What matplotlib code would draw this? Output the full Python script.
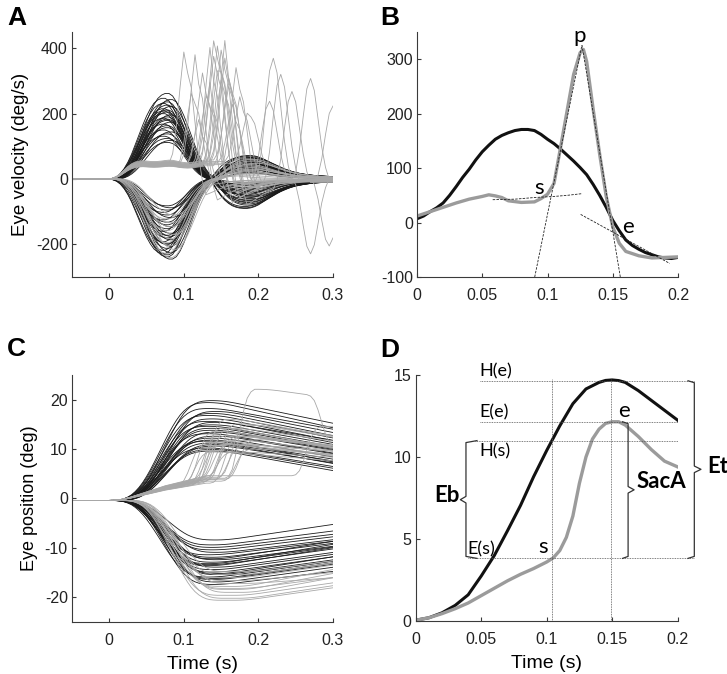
import matplotlib
matplotlib.use('Agg')
import matplotlib.pyplot as plt
import numpy as np

plt.rcParams['font.family'] = ['Liberation Sans', 'DejaVu Sans']

DARK = '#1a1a1a'
GREY = '#a8a8a8'
NOTE_FONT = ['Lato', 'DejaVu Sans']

# ---------------------------------------------------------------- sample clock (5 ms)
t_ms = np.arange(-50, 301, 5)
N = len(t_ms)

def idx(ms):
    return (ms + 50) // 5

# ---------------------------------------------------------------- shapes read from panel A / C
# pursuit velocity bump, 0..135 ms (peak normalised to 1)
bump_v = [0, .01, .03, .07, .13, .21, .31, .43, .55, .67, .78, .87, .94, .98, 1.0,
          1.0, .97, .9, .8, .68, .55, .42, .3, .2, .12, .06, .02, 0]
# late (post crossing) velocity, 135..300 ms
late_v = [0, .2, .4, .58, .72, .83, .91, .96, .99, 1.0, 1.0, .98, .94, .88, .8, .72, .64,
          .56, .48, .42, .36, .31, .27, .24, .21, .19, .17, .15, .14, .13, .12, .11, .1, .1]
# catch-up saccade velocity, peak at 4th sample
sacc_v = [.08, .3, .62, .9, 1.0, .88, .6, .32, .12, 0]
# low pursuit velocity plateau of catch-up trials, 0..130 ms
plat_v = [0, .05, .15, .3, .5, .7, .85, .95, 1.0, 1.02, 1.0, .98, .97, .98, 1.0, 1.03,
          1.05, 1.04, 1.0, .95, .92, .9, .92, .95, 1.0, 1.05, 1.1]
# position of smooth trials, 0..130 ms
rise_p = [0, .001, .003, .008, .018, .035, .058, .092, .134, .185, .245, .312, .385, .46,
          .537, .614, .688, .757, .819, .872, .914, .946, .969, .985, .994, .998, 1.0]
# slow position drift after the movement, 0..165 ms after start
drift_p = [0, .005, .015, .03, .05, .075, .1, .13, .16, .19, .22, .25, .28, .31, .34, .37,
           .4, .43, .46, .49, .52, .55, .58, .61, .64, .67, .7, .73, .76, .79, .82, .85, .88, .91]
# slow position of catch-up trials, 0..130 ms
slow_p = [0, .005, .017, .037, .067, .104, .148, .198, .247, .296, .346, .395, .444, .494,
          .543, .593, .63, .667, .704, .741, .778, .815, .852, .889, .926, .963, 1.0]
# saccadic position step
step_p = [.02, .1, .28, .52, .75, .9, .97, 1.0]

# ---------------------------------------------------------------- panel A values (deg/s)
up_peak = [262, 247, 243, 236, 231, 226, 222, 215, 211, 205, 200, 196, 190, 186, 179, 174,
           168, 163, 157, 150, 144, 138, 131, 124, 118, 112, 208, 183]
up_late = [-72, -88, -60, -80, -45, -66, -52, -90, -38, -70, -58, -28, -64, -48, -20, -55,
           -35, -76, -42, -15, -30, -50, -25, -10, -40, -18, -84, -33]
up_delay = [1, 0, 2, 1, 0, 1, 2, 0, 1, 1, 0, 2, 1, 0, 1, 2, 0, 1, 1, 0, 2, 1, 0, 1, 2, 1, 0, 1]

dn_peak = [-245, -238, -232, -225, -218, -212, -205, -198, -192, -186, -180, -172, -166, -160,
           -152, -146, -140, -132, -125, -118, -110, -102, -95, -88, -82, -200, -175, -228]
dn_late = [60, 35, 70, 48, 25, 66, 40, 55, 20, 62, 30, 50, 45, 68, 28, 58, 38, 52, 22, 65,
           42, 33, 56, 18, 46, 72, 36, 53]
dn_delay = [2, 1, 1, 2, 0, 1, 2, 1, 0, 2, 1, 1, 2, 0, 1, 2, 1, 1, 0, 2, 1, 0, 1, 2, 1, 1, 2, 0]

gdn_peak = [-240, -228, -215, -204, -195, -182, -170, -158, -146, -134, -122, -110]
gdn_late = [15, 40, 28, 55, 10, 35, 48, 22, 60, 30, 44, 18]
gdn_delay = [2, 1, 3, 2, 1, 2, 3, 1, 2, 2, 1, 3]

gup_plat = [45, 40, 50, 38, 52, 44, 47, 41, 55, 43, 39, 48, 46, 42, 50, 37, 53, 45, 40, 49, 44, 47]
gup_tp = [105, 115, 120, 125, 130, 135, 140, 145, 145, 150, 150, 155, 155, 160, 160, 165,
          165, 170, 175, 180, 190, 140]
gup_pk = [386, 250, 370, 160, 300, 230, 390, 420, 350, 400, 320, 380, 280, 360, 410, 300,
          250, 200, 330, 220, 170, 270]
gup_post = [-60, -20, -80, -30, -40, -10, -90, -50, -30, -70, 10, -45, -20, -60, -100, -35,
            0, -25, -55, -15, 20, -65]
gup_tp2 = [0, 0, 0, 0, 0, 215, 0, 0, 220, 0, 270, 230, 0, 0, 245, 0, 295, 0, 0, 270, 0, 300]
gup_pk2 = [0, 0, 0, 0, 0, 240, 0, 0, 376, 0, -230, 330, 0, 0, 285, 0, -205, 0, 0, 310, 0, 230]

# ---------------------------------------------------------------- panel C values (deg)
pos_offset = -0.4
cup_top = [20.2, 19.8, 18, 17.6, 17.2, 16.5, 15.8, 15, 14.6, 14.2, 13.5, 13, 12.6, 12, 11.6,
           11, 10.6, 10.3, 10, 16, 13.8, 12.2, 18.6, 15.3, 11.3]
cup_end = [15, 14.2, 13, 12.5, 12.2, 11.5, 11, 10.5, 10, 9.8, 9.2, 8.8, 8.3, 8, 7.5, 7, 6.5,
           6, 5.5, 11.8, 9.5, 7.2, 14, 10.8, 6.8]
cup_delay = [1, 0, 2, 1, 0, 1, 2, 0, 1, 1, 0, 2, 1, 0, 1, 2, 0, 1, 1, 0, 2, 1, 0, 1, 2]

cdn_low = [-8, -9, -10, -10.5, -11, -11.5, -12, -12.5, -13, -13.5, -14, -14.5, -15, -15.5,
           -16, -16.5, -17, -11.8, -13.2, -14.8, -9.5, -12.8, -15.8]
cdn_end = [-4.3, -5.8, -7, -7.5, -8, -8.3, -8.8, -9, -9.5, -10, -10.5, -11, -11.5, -12, -12.5,
           -13, -14, -7.8, -9.2, -10.8, -6.5, -8.5, -12.2]
cdn_delay = [2, 1, 1, 2, 0, 1, 2, 1, 0, 2, 1, 1, 2, 0, 1, 2, 1, 1, 0, 2, 1, 0, 1]

cgdn_low = [-19.8, -19.2, -18.6, -18, -17.4, -16.8, -16.2, -15.6, -15, -14.4, -20.2, -17.8]
cgdn_end = [-16, -15.6, -14, -13.2, -12.5, -15, -13.8, -12, -11.5, -11, -16.6, -14.5]
cgdn_delay = [4, 3, 5, 4, 3, 5, 4, 3, 4, 5, 3, 4]

cgup_slow = [4.2, 3.8, 4.5, 4.0, 3.6, 4.8, 4.1, 3.9, 4.4, 4.6, 3.7, 4.3, 4.0, 4.9, 3.5, 4.2,
             4.7, 3.9, 4.3, 4.5, 5.0]
cgup_on = [95, 100, 105, 110, 115, 115, 120, 120, 125, 125, 130, 130, 135, 135, 140, 145,
           150, 155, 160, 160, 250]
cgup_jump = [7.5, 6, 9.5, 8, 11, 6.5, 9, 12.5, 7, 10, 8.5, 5.5, 11.5, 8, 9.5, 7, 10.5, 6.5,
             8, 18, 10]
cgup_drop = [-3, -2, -4, -3.5, -5, -2.5, -3, -4.5, -2, -3.5, -3, -1.5, -4, -2.5, -3, -2,
             -3.5, -2, -2.5, -3.5, 0]
cgup_on2 = [0] * 19 + [270, 0]
cgup_jump2 = [0] * 19 + [-10, 0]

# ---------------------------------------------------------------- panel B values
b_t = [0, .005, .01, .015, .02, .025, .03, .035, .04, .045, .05, .055, .06, .065, .07, .075,
       .08, .085, .09, .095, .1, .105, .11, .115, .12, .125, .13, .135, .14, .145, .15, .155,
       .16, .165, .17, .175, .18, .185, .19, .195, .2]
b_black = [7, 12, 20, 27, 36, 50, 66, 83, 98, 115, 130, 142, 153, 160, 165, 169, 171, 171,
           169, 162, 153, 145, 135, 124, 113, 101, 88, 70, 50, 28, 4, -15, -32, -42, -49,
           -55, -59, -63, -65, -66, -64]
b_gray_t = [0, .01, .02, .03, .04, .05, .055, .06, .065, .07, .08, .09, .095, .1, .105, .11,
            .115, .12, .125, .1275, .13, .135, .14, .145, .15, .155, .16, .17, .18, .19, .2]
b_gray = [12, 20, 28, 36, 43, 48, 51, 49, 46, 40, 37, 38, 44, 52, 72, 138, 205, 272, 312,
          318, 296, 208, 125, 48, -8, -38, -53, -61, -65, -64, -63]
b_base_t = [0.058, 0.075, 0.09, 0.105, 0.115, 0.126]
b_base_v = [42, 43, 46, 48, 50, 53]
b_rise_t, b_rise_v = [0.0902, 0.1264], [-100, 326]
b_fall_t, b_fall_v = [0.1264, 0.1558], [326, -100]
b_end_t, b_end_v = [0.1254, 0.1936], [15, -75]

# ---------------------------------------------------------------- panel D values
d_t = [0, .01, .02, .03, .04, .05, .06, .07, .08, .09, .1, .11, .12, .13, .14, .145, .15,
       .155, .16, .17, .18, .19, .2]
d_black = [0.05, 0.2, 0.5, 0.95, 1.6, 2.75, 4.0, 5.5, 7.05, 8.8, 10.4, 11.9, 13.25, 14.15,
           14.55, 14.67, 14.7, 14.66, 14.55, 14.05, 13.45, 12.85, 12.25]
d_gray_t = [0, .01, .02, .03, .04, .05, .06, .07, .08, .09, .1, .105, .11, .115, .12, .125,
            .13, .135, .14, .145, .15, .155, .16, .17, .18, .19, .2]
d_gray = [0.05, 0.2, 0.45, 0.75, 1.1, 1.55, 2.0, 2.45, 2.85, 3.2, 3.6, 3.85, 4.3, 5.1, 6.4,
          8.4, 10.0, 11.1, 11.7, 12.05, 12.15, 12.15, 11.95, 11.25, 10.45, 9.75, 9.4]
sac_s, sac_e = 0.104, 0.149
H_s, H_e, E_s, E_e = 11.0, 14.65, 3.82, 12.15


def held(shape, start):
    out = np.zeros(N)
    s = np.asarray(shape, float)
    k = max(0, min(len(s), N - start))
    out[start:start + k] = s[:k]
    if start + k < N:
        out[start + k:] = s[-1]
    return out


def matlab_style(ax):
    for s in ('top', 'right'):
        ax.spines[s].set_visible(False)
    for s in ('left', 'bottom'):
        ax.spines[s].set_color('#3a3a3a')
        ax.spines[s].set_linewidth(0.8)
    ax.tick_params(direction='in', length=3, width=0.8, color='#3a3a3a',
                   labelsize=11.5, labelcolor='#222222')
    ax.tick_params(axis='x', pad=8)
    ax.tick_params(axis='y', pad=3)


def brace(ax, x, y0, y1, ym, tip, hook):
    xs = [hook, x, x, tip, x, x, hook]
    ys = [y1, y1 - 0.12, ym + 0.2, ym, ym - 0.2, y0 + 0.12, y0]
    ax.plot(xs, ys, color='#333333', lw=0.9, clip_on=False)


fig = plt.figure(figsize=(7.27, 6.74), dpi=100)
axA = fig.add_axes([0.099, 0.589, 0.359, 0.3635])
axB = fig.add_axes([0.5736, 0.589, 0.359, 0.3635])
axC = fig.add_axes([0.099, 0.0772, 0.359, 0.3665])
axD = fig.add_axes([0.572, 0.0786, 0.360, 0.365])
tA = t_ms / 1000.0
i0, i135 = idx(0), idx(135)

# ---------------------------------------------------------------- A
for pk, lt, d in zip(up_peak, up_late, up_delay):
    v = pk * held(bump_v, i0 + d) + lt * held(late_v, i135 + d)
    axA.plot(tA, v, color=DARK, lw=0.6)
for pk, lt, d in zip(dn_peak, dn_late, dn_delay):
    v = pk * held(bump_v, i0 + d) + lt * held(late_v, i135 + d)
    axA.plot(tA, v, color=DARK, lw=0.6)
for pk, lt, d in zip(gdn_peak, gdn_late, gdn_delay):
    v = pk * held(bump_v, i0 + d) + lt * held(late_v, i135 + d)
    axA.plot(tA, v, color=GREY, lw=0.6)
for pl, tp, pk, post, tp2, pk2 in zip(gup_plat, gup_tp, gup_pk, gup_post, gup_tp2, gup_pk2):
    ip = idx(tp)
    v = pl * held(plat_v, i0) * (np.arange(N) < ip)
    v = v + post * held(late_v[9:], ip) * (np.arange(N) >= ip)
    v = v + pk * held(sacc_v, ip - 4)
    if tp2:
        v = v + pk2 * held(sacc_v, idx(tp2) - 4)
    axA.plot(tA, v, color=GREY, lw=0.6)
axA.set_xlim(-0.05, 0.3)
axA.set_ylim(-300, 450)
axA.set_xticks([0, 0.1, 0.2, 0.3], ['0', '0.1', '0.2', '0.3'])
axA.set_yticks([-200, 0, 200, 400], ['-200', '0', '200', '400'])
axA.set_ylabel('Eye velocity (deg/s)', fontsize=13.5, labelpad=5)
matlab_style(axA)

# ---------------------------------------------------------------- C
for top, end, d in zip(cup_top, cup_end, cup_delay):
    p = pos_offset + top * held(rise_p, i0 + d) + (end - top) * held(drift_p, i135 + d)
    axC.plot(tA, p, color=DARK, lw=0.6)
for low, end, d in zip(cdn_low, cdn_end, cdn_delay):
    p = pos_offset + low * held(rise_p, i0 + d) + (end - low) * held(drift_p, i135 + d)
    axC.plot(tA, p, color=DARK, lw=0.6)
for low, end, d in zip(cgdn_low, cgdn_end, cgdn_delay):
    p = pos_offset + low * held(rise_p, i0 + d) + (end - low) * held(drift_p, i135 + d + 4)
    axC.plot(tA, p, color=GREY, lw=0.6)
for g, on, jmp, drop, on2, jmp2 in zip(cgup_slow, cgup_on, cgup_jump, cgup_drop,
                                       cgup_on2, cgup_jump2):
    p = pos_offset + g * held(slow_p, i0) + jmp * held(step_p, idx(on))
    p = p + drop * held(drift_p, idx(on) + 8)
    if on2:
        p = p + jmp2 * held(step_p, idx(on2))
    axC.plot(tA, p, color=GREY, lw=0.6)
axC.set_xlim(-0.05, 0.3)
axC.set_ylim(-25, 25)
axC.set_xticks([0, 0.1, 0.2, 0.3], ['0', '0.1', '0.2', '0.3'])
axC.set_yticks([-20, -10, 0, 10, 20], ['-20', '-10', '0', '10', '20'])
axC.set_ylabel('Eye position (deg)', fontsize=13, labelpad=5)
axC.set_xlabel('Time (s)', fontsize=14, labelpad=6)
matlab_style(axC)

# ---------------------------------------------------------------- B
axB.plot(b_t, b_black, color='#111111', lw=2.2)
axB.plot(b_gray_t, b_gray, color='#9b9b9b', lw=2.4)
fit = dict(color='#222222', lw=0.6, ls=(0, (3, 1.5)))
axB.plot(b_base_t, b_base_v, **fit)
axB.plot(b_rise_t, b_rise_v, **fit)
axB.plot(b_fall_t, b_fall_v, **fit)
axB.plot(b_end_t, b_end_v, **fit)
axB.text(0.1195, 331, 'p', fontsize=16, family=NOTE_FONT, ha='left', va='baseline',
         clip_on=False)
axB.text(0.0895, 53, 's', fontsize=16, family=NOTE_FONT, ha='left', va='baseline')
axB.text(0.1575, -20, 'e', fontsize=16, family=NOTE_FONT, ha='left', va='baseline')
axB.set_xlim(0, 0.2)
axB.set_ylim(-100, 350)
axB.set_xticks([0, 0.05, 0.1, 0.15, 0.2], ['0', '0.05', '0.1', '0.15', '0.2'])
axB.set_yticks([-100, 0, 100, 200, 300], ['-100', '0', '100', '200', '300'])
matlab_style(axB)

# ---------------------------------------------------------------- D
axD.plot(d_t, d_black, color='#111111', lw=2.2)
axD.plot(d_gray_t, d_gray, color='#9b9b9b', lw=2.4)
guide = dict(color='#555555', lw=0.6, ls=(0, (1, 1)), clip_on=False)
axD.plot([0.0493, 0.2128], [H_e, H_e], **guide)
axD.plot([0.0493, 0.2], [E_e, E_e], **guide)
axD.plot([0.0455, 0.2], [H_s, H_s], **guide)
axD.plot([0.0398, 0.2128], [E_s, E_s], **guide)
axD.plot([sac_s, sac_s], [0, 14.75], **guide)
axD.plot([sac_e, sac_e], [0, 14.75], **guide)
brace(axD, 0.0383, E_s, H_s, 7.4, 0.034, 0.0467)
brace(axD, 0.1622, E_s, E_e, 8.0, 0.1668, 0.158)
brace(axD, 0.2128, E_s, H_e, 9.25, 0.2179, 0.208)
note = dict(fontsize=13, family=NOTE_FONT, clip_on=False)
axD.text(0.0485, H_e + 0.1, 'H(e)', va='bottom', **note)
axD.text(0.0485, E_e + 0.1, 'E(e)', va='bottom', **note)
axD.text(0.0485, H_s - 0.15, 'H(s)', va='top', **note)
axD.text(0.039, E_s + 0.05, 'E(s)', va='bottom', **note)
axD.text(0.0935, E_s + 0.1, 's', fontsize=16, family=NOTE_FONT, va='bottom')
axD.text(0.1545, E_e + 0.05, 'e', fontsize=16, family=NOTE_FONT, va='bottom')
bold = dict(fontsize=16, family=NOTE_FONT, fontweight='bold', va='center', clip_on=False)
axD.text(0.0335, 7.65, 'Eb', ha='right', **bold)
axD.text(0.169, 8.5, 'SacA', ha='left', **bold)
axD.text(0.2225, 9.4, 'Et', ha='left', **bold)
axD.set_xlim(0, 0.2)
axD.set_ylim(0, 15)
axD.set_xticks([0, 0.05, 0.1, 0.15, 0.2], ['0', '0.05', '0.1', '0.15', '0.2'])
axD.set_yticks([0, 5, 10, 15], ['0', '5', '10', '15'])
axD.set_xlabel('Time (s)', fontsize=14, labelpad=6)
matlab_style(axD)

# ---------------------------------------------------------------- panel letters
for x, y, s in [(7, 25, 'A'), (380, 25, 'B'), (7, 356, 'C'), (380, 357, 'D')]:
    fig.text(x / 727, 1 - y / 674, s, fontsize=19, fontweight='bold', va='baseline')

fig.savefig('out.png', dpi=100)
